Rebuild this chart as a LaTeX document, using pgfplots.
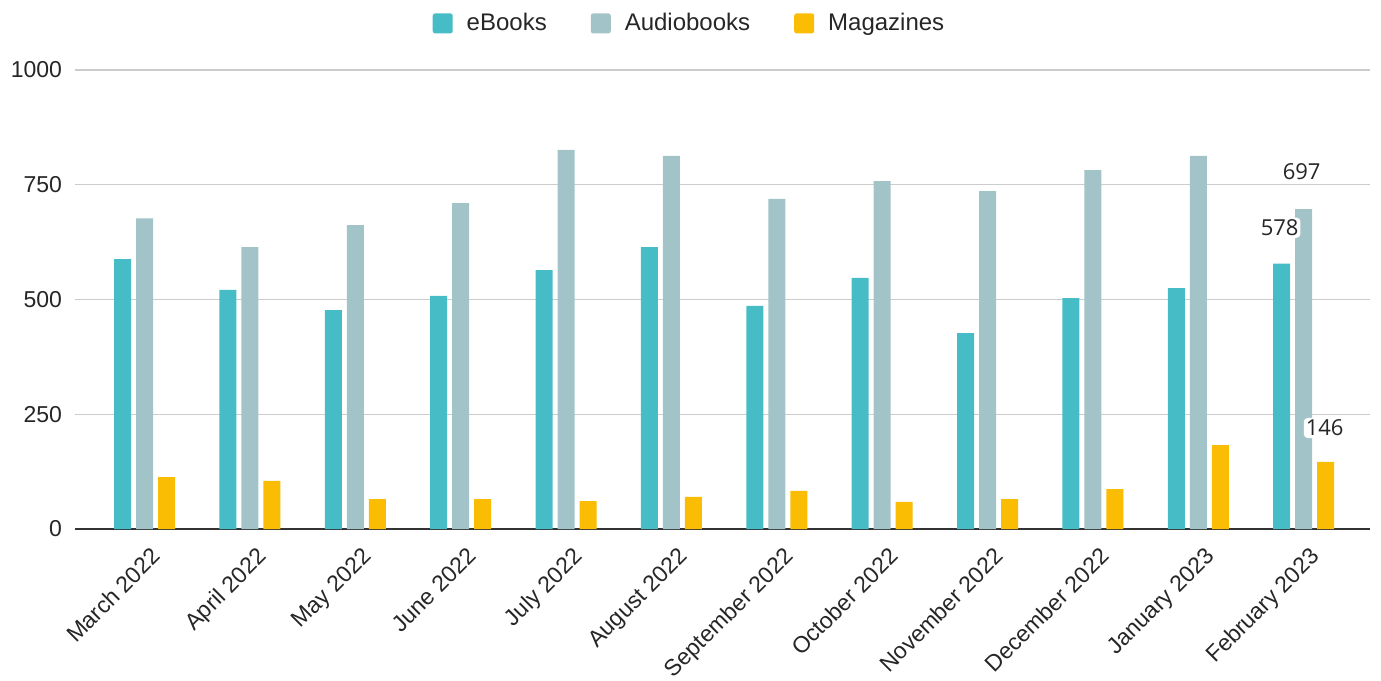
\documentclass[border=0pt]{standalone}
\usepackage{pgfplots}
\pgfplotsset{compat=1.18}
\usepackage{fontspec}
\setmainfont{Liberation Sans}
\newfontfamily\lblfont{Open Sans}
\definecolor{cEbook}{HTML}{46BDC6}
\definecolor{cAudio}{HTML}{A2C4C9}
\definecolor{cMag}{HTML}{FBBC04}
\definecolor{cGrid}{HTML}{CCCCCC}
\begin{document}
\begin{tikzpicture}
\path[use as bounding box] (-37.5pt,-75.5pt) rectangle (653pt,264.5pt);
\begin{axis}[
  at={(0,0)}, anchor=south west,
  scale only axis, width=647.5pt, height=229.5pt,
  ybar=2.5pt, bar width=8.5pt,
  xmin=-0.66, xmax=11.63, ymin=0, ymax=1000,
  ytick={0,250,500,750,1000},
  xtick={0,...,11},
  xticklabels={March 2022,April 2022,May 2022,June 2022,July 2022,August 2022,September 2022,October 2022,November 2022,December 2022,January 2023,February 2023},
  x tick label style={rotate=45, anchor=north east, font=\fontsize{11.5}{13}\selectfont, color=black!85, xshift=-0.5pt, yshift=-4.5pt},
  y tick label style={font=\fontsize{11.5}{13}\selectfont, color=black!85, xshift=-3pt},
  /pgf/number format/assume math mode=true,
  /pgf/number format/1000 sep={},
  ymajorgrids, grid style={cGrid, line width=0.6pt},
  axis x line*=bottom, axis y line*=left,
  y axis line style={draw=none},
  x axis line style={black!80, line width=0.8pt, -},
  major tick length=0pt,
  legend style={at={(0.5,1)}, anchor=south, yshift=14pt, xshift=-16pt, draw=none, legend columns=-1,
    font=\fontsize{12}{14}\selectfont, text=black!85,
    /tikz/every odd column/.append style={column sep=5pt},
    /tikz/every even column/.append style={column sep=20pt}},
  legend image code/.code={\fill[#1, rounded corners=1.2pt] (0pt,-5pt) rectangle (10pt,5pt);},
]
\addplot[fill=cEbook, draw=none] coordinates {(0,588) (1,521) (2,477) (3,508) (4,564) (5,614) (6,486) (7,547) (8,427) (9,503) (10,525) (11,578)};
\addplot[fill=cAudio, draw=none] coordinates {(0,677) (1,614) (2,662) (3,710) (4,826) (5,813) (6,719) (7,758) (8,736) (9,782) (10,813) (11,697)};
\addplot[fill=cMag, draw=none] coordinates {(0,113) (1,105) (2,65) (3,65) (4,61) (5,70) (6,83) (7,59) (8,65) (9,87) (10,183) (11,146)};
\legend{eBooks,Audiobooks,Magazines}
\node[font=\lblfont\fontsize{11}{13}\selectfont, text=black!85, fill=white, inner sep=1pt, rounded corners=2pt] at (axis cs:11,697) [yshift=18.5pt, xshift=-1pt] {697};
\node[font=\lblfont\fontsize{11}{13}\selectfont, text=black!85, fill=white, inner sep=1pt, rounded corners=2pt] at (axis cs:11,578) [yshift=18pt, xshift=-12pt] {578};
\node[font=\lblfont\fontsize{11}{13}\selectfont, text=black!85, fill=white, inner sep=1pt, rounded corners=2pt] at (axis cs:11,146) [yshift=17pt, xshift=10.5pt] {146};
\end{axis}
\end{tikzpicture}
\end{document}
